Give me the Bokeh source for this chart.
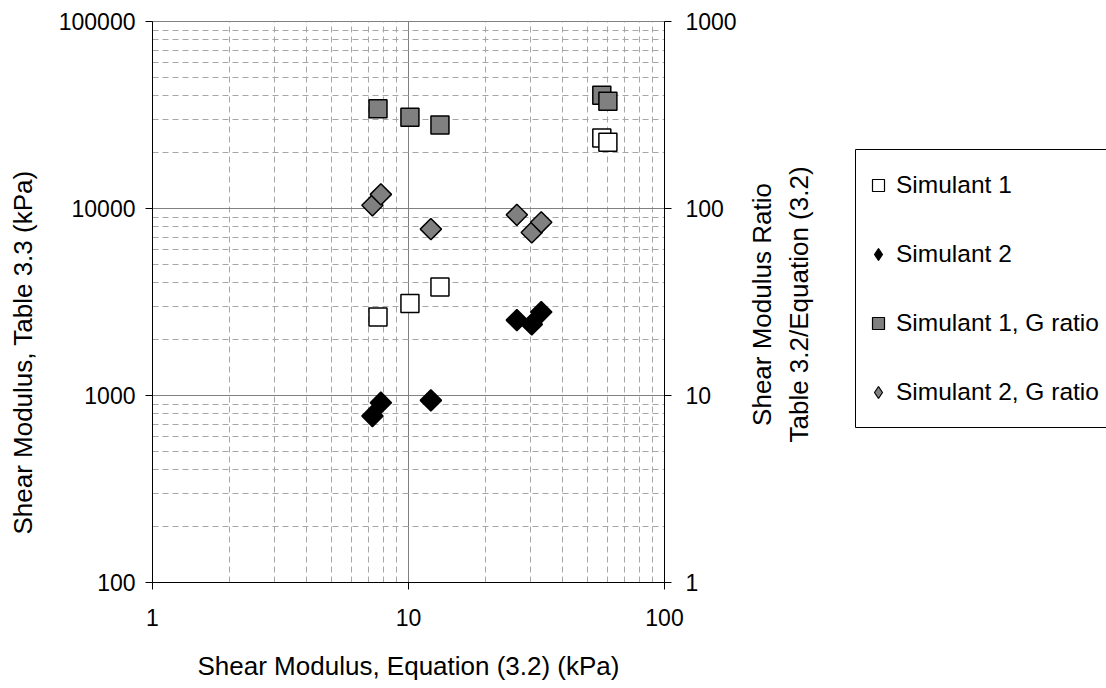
import math
from bokeh.plotting import figure
from bokeh.layouts import row
from bokeh.models import (LogAxis, Range1d, FixedTicker, PrintfTickFormatter, Grid,
                          Legend, BoxAnnotation, Label)
from bokeh.embed import file_html
from bokeh.resources import INLINE

# ---- data ----
s1_x = [7.60, 10.13, 13.27, 56.9, 60.1]
s1_g = [2625, 3105, 3800, 23800, 22600]
s2_x = [7.23, 7.80, 12.23, 26.5, 30.3, 33.0]
s2_g = [777, 915, 942, 2530, 2400, 2793]
s1_ratio = [342, 308, 280, 403, 374]
s2_ratio = [104, 119, 77.6, 92.5, 74.5, 84.4]

series_names = ["Simulant 1", "Simulant 2", "Simulant 1, G ratio", "Simulant 2, G ratio"]
x_title = "Shear Modulus, Equation (3.2) (kPa)"
left_title = "Shear Modulus, Table 3.3 (kPa)"
right_title = ["Shear Modulus Ratio", "Table 3.2/Equation (3.2)"]

x_major = [1, 10, 100]
x_minor = [2, 3, 4, 5, 6, 7, 8, 9, 20, 30, 40, 50, 60, 70, 80, 90]
y_major = [100, 1000, 10000, 100000]
y_minor = [m * d for d in (100, 1000, 10000) for m in range(2, 10)]
r_major = [1, 10, 100, 1000]
r_minor = [m * d for d in (1, 10, 100) for m in range(2, 10)]

FONT = "Liberation Sans"
TICK_FS = "23px"
TITLE_FS = "26px"
LEG_FS = "24.5px"

W, H = 1106, 688
BORDER_TOP, BORDER_BOTTOM = 21, 106
FRAME_L, FRAME_R = 152, 664
Z_W = 45
P_W = 740 - Z_W


def side_panel(width):
    f = figure(width=width, height=H, x_range=Range1d(0, width),
               y_range=Range1d(BORDER_BOTTOM, H - BORDER_TOP),
               output_backend="svg", toolbar_location=None,
               x_axis_location=None, y_axis_location=None,
               min_border_left=0, min_border_right=0,
               min_border_top=BORDER_TOP, min_border_bottom=BORDER_BOTTOM)
    f.outline_line_color = None
    f.background_fill_color = "white"
    f.border_fill_color = "white"
    for g in list(f.center):
        if isinstance(g, Grid):
            f.center.remove(g)
    return f


# ---- left panel: left-axis title ----
z = side_panel(Z_W)
z.add_layout(Label(x=22, y=H - 352, text=left_title, angle=math.pi / 2,
                   text_align="center", text_baseline="middle",
                   text_font=FONT, text_font_size=TITLE_FS, text_color="black"))

# ---- main plot ----
p = figure(width=P_W, height=H, x_axis_type="log", y_axis_type="log",
           x_range=Range1d(1, 100), y_range=Range1d(100, 100000),
           output_backend="svg", toolbar_location=None,
           min_border_left=FRAME_L - Z_W, min_border_right=P_W + Z_W - FRAME_R,
           min_border_top=BORDER_TOP, min_border_bottom=BORDER_BOTTOM)
p.extra_y_ranges = {"ratio": Range1d(1, 1000)}
p.outline_line_color = "#808080"
p.outline_line_width = 1
p.background_fill_color = "white"
p.border_fill_color = "white"

xt = FixedTicker(ticks=x_major, minor_ticks=x_minor)
yt = FixedTicker(ticks=y_major, minor_ticks=y_minor)
rt = FixedTicker(ticks=r_major, minor_ticks=r_minor)

for g in list(p.center):
    if isinstance(g, Grid):
        p.center.remove(g)

gx = Grid(dimension=0, ticker=xt, grid_line_color="#808080", grid_line_width=1,
          minor_grid_line_color="#a6a6a6", minor_grid_line_dash="6 4", minor_grid_line_width=1)
gy = Grid(dimension=1, ticker=yt, grid_line_color="#808080", grid_line_width=1,
          minor_grid_line_color="#a6a6a6", minor_grid_line_dash="6 4", minor_grid_line_width=1)
p.add_layout(gx, "center")
p.add_layout(gy, "center")


def style_axis(ax, ticker):
    ax.ticker = ticker
    ax.formatter = PrintfTickFormatter(format="%d")
    ax.axis_line_color = "black"
    ax.axis_line_width = 1
    ax.major_tick_line_color = "black"
    ax.major_tick_out = 7
    ax.major_tick_in = 0
    ax.minor_tick_out = 0
    ax.minor_tick_in = 0
    ax.major_label_text_font = FONT
    ax.major_label_text_font_size = TICK_FS
    ax.major_label_text_color = "black"
    ax.axis_label_text_font = FONT
    ax.axis_label_text_font_size = TITLE_FS
    ax.axis_label_text_font_style = "normal"
    ax.axis_label_text_color = "black"


xa = p.xaxis[0]
style_axis(xa, xt)
xa.axis_label = x_title
xa.major_label_standoff = 19
xa.axis_label_standoff = 22

ya = p.yaxis[0]
style_axis(ya, yt)
ya.major_label_standoff = 10

ra = LogAxis(y_range_name="ratio")
style_axis(ra, rt)
ra.major_label_standoff = 14
p.add_layout(ra, "right")

# ---- glyphs ----
p.scatter(s1_x, s1_g, marker="square", size=18, fill_color="white",
          line_color="black", line_width=1.5)
p.scatter(s2_x, s2_g, marker="square", size=15, angle=math.pi / 4,
          fill_color="black", line_color="black", line_width=1.5)
p.scatter(s1_x, s1_ratio, marker="square", size=18, fill_color="#808080",
          line_color="black", line_width=1.5, y_range_name="ratio")
p.scatter(s2_x, s2_ratio, marker="square", size=15, angle=math.pi / 4,
          fill_color="#808080", line_color="black", line_width=1.5,
          y_range_name="ratio")

# ---- right panel: right-axis title + legend ----
Q_X0 = Z_W + P_W
Q_W = W - Q_X0
q = side_panel(Q_W)

TITLE_X = [761, 798]
TITLE_CY = 304
for txt, sx in zip(right_title, TITLE_X):
    q.add_layout(Label(x=sx - Q_X0, y=H - TITLE_CY, text=txt, angle=math.pi / 2,
                       text_align="center", text_baseline="middle",
                       text_font=FONT, text_font_size=TITLE_FS, text_color="black"))

LEG_LEFT, LEG_TOP, LEG_BOTTOM = 855, 149, 427
box = BoxAnnotation(left=LEG_LEFT - Q_X0, right=Q_W + 60, top=H - LEG_TOP,
                    bottom=H - LEG_BOTTOM, fill_alpha=0, line_color="black",
                    line_width=1, line_alpha=1, level="underlay")
q.add_layout(box)

styles = [dict(marker="square", fill_color="white"),
          dict(marker="diamond", fill_color="black"),
          dict(marker="square", fill_color="#808080"),
          dict(marker="diamond", fill_color="#808080")]
nan = float("nan")
items = []
for name, st in zip(series_names, styles):
    rr = q.scatter(x=[nan], y=[nan], size=12, line_color="black", line_width=1.2, **st)
    items.append((name, [rr]))

GLYPH_H, SPACING = 32, 37
leg_h = 4 * GLYPH_H + 3 * SPACING
first_center = 184.5
leg_bottom_screen = first_center - GLYPH_H / 2 + leg_h
legend = Legend(items=items,
                location=(863 - Q_X0, int(round((H - BORDER_BOTTOM) - leg_bottom_screen))),
                orientation="vertical")
legend.border_line_color = None
legend.background_fill_alpha = 0
legend.padding = 0
legend.margin = 0
legend.glyph_width = 30
legend.glyph_height = GLYPH_H
legend.label_height = GLYPH_H
legend.spacing = SPACING
legend.label_standoff = 3
legend.label_text_font = FONT
legend.label_text_font_size = LEG_FS
legend.label_text_color = "black"
q.add_layout(legend, "center")

layout = row(z, p, q, spacing=0)
open("out.html", "w").write(file_html(layout, INLINE))
